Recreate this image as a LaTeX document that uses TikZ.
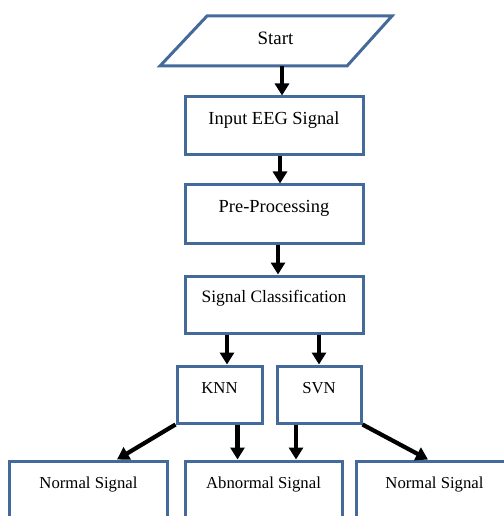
\documentclass[tikz,border=0pt]{standalone}
\usepackage{fontspec}
\setmainfont{Liberation Serif}
\usetikzlibrary{arrows.meta}
\definecolor{boxblue}{RGB}{68,106,155}
\tikzset{
  box/.style={draw=boxblue, line width=3bp, fill=white, inner sep=0pt},
  boxtxt/.style={font=\fontsize{18.5}{20}\selectfont, anchor=center, yshift=-25bp},
  smalltxt/.style={font=\fontsize{16.8}{18}\selectfont, anchor=center, yshift=-24bp},
  arr/.style={line width=4.2bp, black, -{Triangle[length=12bp,width=14bp]}},
}
\begin{document}
\begin{tikzpicture}[x=1bp, y=-1bp]
\useasboundingbox (0,0) rectangle (504,516);
\clip (0,0) rectangle (504,516);
% Start parallelogram
\draw[draw=boxblue, line width=3bp, line join=miter] (207,16) -- (392,16) -- (347,66) -- (160,66) -- cycle;
\node[font=\fontsize{19}{20}\selectfont] (start) at (275.5,38) {Start};
\coordinate (startb) at (282,66);
% Main boxes
\node[box, minimum width=178bp, minimum height=58bp, label={[boxtxt]north:Input EEG Signal}] (input) at (274,126) {};
\node[box, minimum width=178bp, minimum height=58bp, label={[boxtxt]north:Pre-Processing}] (pre) at (274,214) {};
\node[box, minimum width=178bp, minimum height=57bp, label={[boxtxt, yshift=1bp, font=\fontsize{17.5}{20}\selectfont]north:Signal Classification}] (sig) at (274,304.5) {};
\node[box, minimum width=85bp, minimum height=57bp, label={[smalltxt]north:KNN}] (knn) at (219.5,394.5) {};
\node[box, minimum width=84bp, minimum height=57bp, label={[smalltxt]north:SVN}] (svn) at (319,394.5) {};
\node[box, minimum width=157bp, minimum height=70bp, label={[smalltxt, yshift=-1bp]north:Normal Signal}] (nl) at (88.5,496) {};
\node[box, minimum width=157bp, minimum height=70bp, label={[smalltxt, yshift=-1bp]north:Abnormal Signal}] (abn) at (263.5,496) {};
\node[box, minimum width=157bp, minimum height=70bp, label={[smalltxt, yshift=-1bp]north:Normal Signal}] (nr) at (434.5,496) {};
% Connectors
\draw[arr] (startb) -- (startb |- input.north);
\draw[arr] ([xshift=6bp]input.south) -- ([xshift=6bp]pre.north);
\draw[arr] ([xshift=4bp]pre.south) -- ([xshift=4bp]sig.north);
\draw[arr] ([xshift=-47bp]sig.south) -- ([xshift=-47bp]sig.south |- knn.north);
\draw[arr] (sig.south -| svn) -- (svn.north);
\draw[arr] ([xshift=18bp]knn.south) -- ([xshift=18bp]knn.south |- abn.north);
\draw[arr] ([xshift=-23bp]svn.south) -- ([xshift=-23bp]svn.south |- abn.north);
\draw[arr] (knn.south west) -- ([xshift=28.5bp]nl.north);
\draw[arr] (svn.south east) -- ([xshift=-6.5bp]nr.north);
\end{tikzpicture}
\end{document}
